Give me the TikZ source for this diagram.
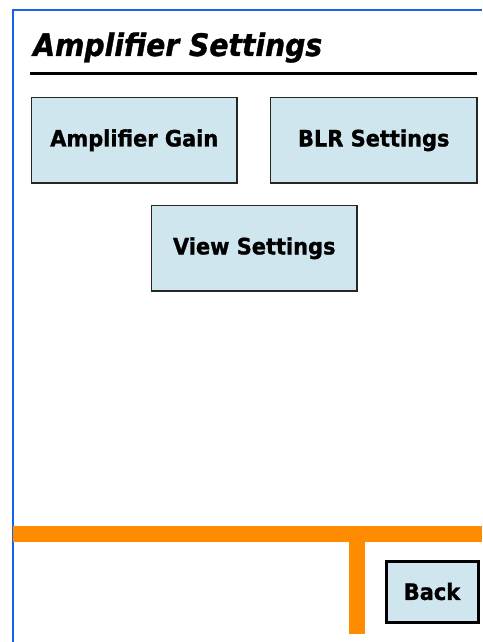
\documentclass[tikz,border=0pt]{standalone}
\usepackage{fontspec}
\newfontfamily\btnfont[FakeStretch=0.93,FakeBold=1.2]{DejaVu Sans Bold}
\newfontfamily\titlefont[FakeStretch=0.91,FakeBold=1.2]{DejaVu Sans Bold Oblique}
\definecolor{btnfill}{HTML}{CFE6EE}
\definecolor{orangebar}{HTML}{FF8C00}
\definecolor{frameblue}{HTML}{1A5FE8}
\begin{document}
\begin{tikzpicture}[x=1pt,y=-1pt,
  btn/.style={draw=black!85,line width=1.5pt,fill=btnfill,inner sep=0pt,anchor=north west,font=\btnfont\fontsize{22.5}{24}\selectfont},
  backbtn/.style={draw=black,line width=3pt,fill=btnfill,inner sep=0pt,anchor=north west,font=\btnfont\fontsize{22.5}{24}\selectfont}]
\useasboundingbox[fill=white] (0,0) rectangle (482,642);
% frame lines
\draw[frameblue,line width=1.3pt] (13,642) -- (13,10) -- (482,10);
% title
\node[anchor=base west,inner sep=0pt,font=\titlefont\fontsize{31}{33}\selectfont] (title) at (33,56) {Amplifier Settings};
\draw[black,line width=3pt] (30,73.5) -- (477,73.5);
% buttons
\node[btn,minimum width=205.5pt,minimum height=85.5pt] (gain) at (30.75,96.75) {Amplifier Gain};
\node[btn,minimum width=206.5pt,minimum height=85.5pt] (blr) at (269.75,96.75) {BLR Settings};
\node[btn,minimum width=205.5pt,minimum height=85.5pt] (view) at (150.75,204.75) {View Settings};
% orange bars
\fill[orangebar] (13,526) rectangle (482,542);
\fill[orangebar] (349,542) rectangle (365,634);
% back button
\node[backbtn,minimum width=92pt,minimum height=61pt] (back) at (384.5,559.5) {Back};
\end{tikzpicture}
\end{document}
